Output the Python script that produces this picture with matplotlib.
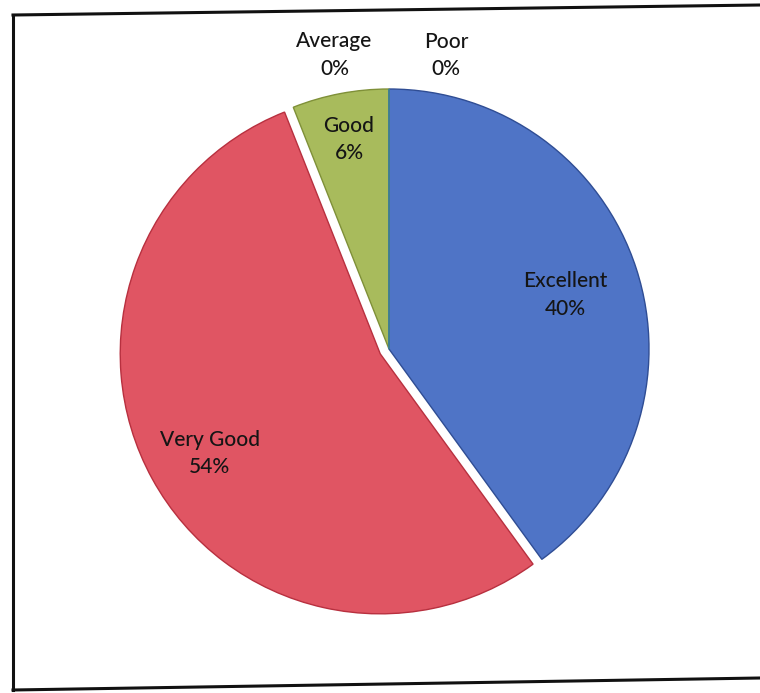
import numpy as np
from matplotlib import pyplot as plt

categories = ["Excellent", "Very Good", "Good", "Average", "Poor"]
shares = [40, 54, 6, 0, 0]
colors = ["#4f74c6", "#e05563", "#a8bb5c", "#8064a2", "#4bacc6"]
edges = ["#2f4d94", "#b8303f", "#7f9038", "#5f4a7a", "#318ca4"]

out_filename = "out.png"


def main():
    W, H = 760, 693
    fig = plt.figure(figsize=(W / 100, H / 100), dpi=100)
    ax = fig.add_axes([0, 0, 1, 1])

    cx, cy = 389, H - 349
    r = 260
    # explode is in data units (pixels here)
    explode = [0.0, 10.0, 0.0, 0.0, 0.0]
    wedges, _ = ax.pie(
        shares,
        colors=colors,
        startangle=90,
        counterclock=False,
        center=(cx, cy),
        radius=r,
        explode=explode,
        wedgeprops=dict(linewidth=1.0),
    )
    for w, ec in zip(wedges, edges):
        w.set_edgecolor(ec)

    # label placement: (fraction of radius, angle shift in degrees)
    place = [(0.71, -1.0), (0.76, 1.5), (0.82, 0), (1.15, 10.5), (1.15, -11)]
    plt.rcParams["font.family"] = ["Lato", "DejaVu Sans"]
    for w, cat, val, (d, shift) in zip(wedges, categories, shares, place):
        ang = np.deg2rad((w.theta1 + w.theta2) / 2 + shift)
        x0, y0 = w.center
        ax.text(
            x0 + d * r * np.cos(ang),
            y0 + d * r * np.sin(ang),
            f"{cat}\n{val}%",
            ha="center",
            va="center",
            fontsize=15,
            fontweight="medium",
            color="#151515",
            linespacing=1.45,
        )

    # scanned chart border
    ax.plot([13, 13], [H - 15, H - 690], color="#111111", lw=2.2)
    ax.plot([13, 760], [H - 15, H - 5], color="#111111", lw=2.2)
    ax.plot([13, 760], [H - 690, H - 678], color="#111111", lw=2.2)

    ax.set_xlim(0, W)
    ax.set_ylim(0, H)
    ax.set_aspect("equal")
    ax.axis("off")
    fig.savefig(out_filename, dpi=100)
    plt.close()


if __name__ == "__main__":
    main()
